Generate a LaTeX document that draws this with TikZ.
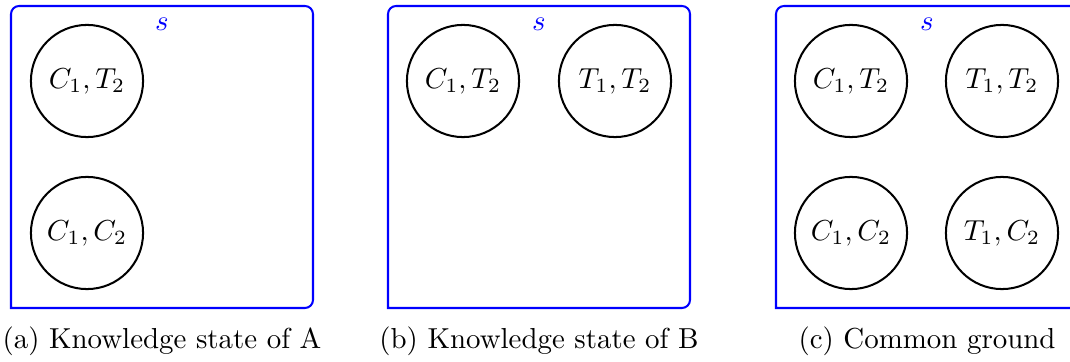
\documentclass[tikz,border=0pt]{standalone}
\begin{document}
\begin{tikzpicture}[x=0.346pt,y=-0.346pt,
  frame/.style={draw=blue,line width=0.7pt,rounded corners=2.8pt,line cap=rect},
  world/.style={draw,circle,line width=0.7pt,minimum size=38.8pt,inner sep=0pt},
  slabel/.style={text=blue,anchor=base,inner sep=0pt},
  captext/.style={anchor=base,inner sep=0pt}]
\useasboundingbox (0,0) rectangle (1070,362);
\clip (0,0) rectangle (1070,362);
% panel a
\draw[frame] (11,308) -- (11,6) -- (313,6) -- (313,308) -- (11,308);
\node[slabel] (sa) at (162,31) {$s$};
\node[world] (a1) at (87,81) {$C_1,T_2$};
\node[world] (a2) at (87,233) {$C_1,C_2$};
\node[captext] (capa) at (162,349) {(a) Knowledge state of A};
% panel b
\draw[frame] (388,308) -- (388,6) -- (690,6) -- (690,308) -- (388,308);
\node[slabel] (sb) at (539,31) {$s$};
\node[world] (b1) at (463,81) {$C_1,T_2$};
\node[world] (b2) at (615,81) {$T_1,T_2$};
\node[captext] (capb) at (539,349) {(b) Knowledge state of B};
% panel c
\draw[frame] (776,308) -- (776,6) -- (1078,6) -- (1078,308) -- (776,308);
\node[slabel] (sc) at (927,31) {$s$};
\node[world] (c1) at (851,81) {$C_1,T_2$};
\node[world] (c2) at (1002,81) {$T_1,T_2$};
\node[world] (c3) at (851,233) {$C_1,C_2$};
\node[world] (c4) at (1002,233) {$T_1,C_2$};
\node[captext] (capc) at (927,349) {(c) Common ground};
\end{tikzpicture}
\end{document}
